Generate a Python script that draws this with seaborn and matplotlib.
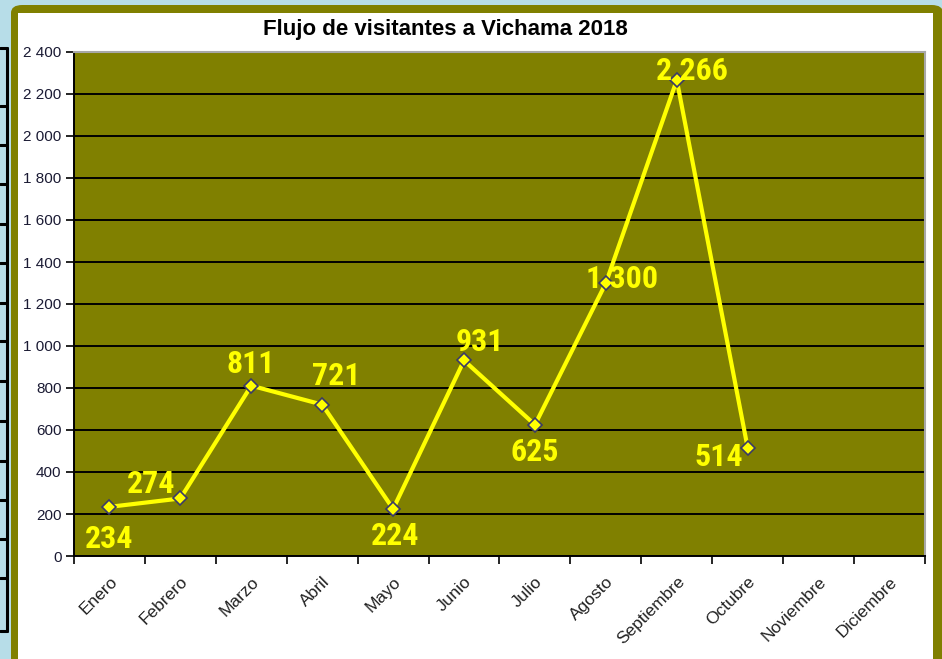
import matplotlib
matplotlib.use("Agg")
import matplotlib.pyplot as plt
import matplotlib.ticker as mticker
from matplotlib import font_manager
from matplotlib.patches import FancyBboxPatch, Rectangle
from matplotlib.lines import Line2D
import seaborn as sns
import pandas as pd

# ---- data ----
meses = ["Enero", "Febrero", "Marzo", "Abril", "Mayo", "Junio", "Julio",
         "Agosto", "Septiembre", "Octubre", "Noviembre", "Diciembre"]
meses_con_datos = meses[:10]
visitantes = [234, 274, 811, 721, 224, 931, 625, 1300, 2266, 514]
etiquetas = ["234", "274", "811", "721", "224", "931", "625", "1 300", "2 266", "514"]
titulo = "Flujo de visitantes a Vichama 2018"

# label centre offsets (pixels) – styling only
label_offsets = [(0, -29.5), (-29, 17), (-1, 24), (13.5, 31), (2, -24.5),
                 (15.5, 20.5), (0, -25), (16.5, 6.5), (15, 11.5), (-29, -6.5)]

sns.set_theme(style="white")
plt.rcParams["font.family"] = ["Liberation Sans", "DejaVu Sans"]

names = {f.name for f in font_manager.fontManager.ttflist}
label_family, label_size = ["Liberation Sans", "DejaVu Sans"], 20.5
for cand in ["Liberation Sans Narrow", "Arial Narrow", "Roboto Condensed",
             "PT Sans Narrow", "Archivo Narrow"]:
    if cand in names:
        label_family, label_size = [cand, "Liberation Sans"], 23
        break

W, H = 942, 659
fig = plt.figure(figsize=(W / 100, H / 100), dpi=100)
fig.patch.set_facecolor("#B7DDE8")

def fx(px):
    return px / W

def fy(py):
    return 1 - py / H

# left table fragment (decoration)
fig.add_artist(Line2D([fx(7), fx(7)], [fy(48), fy(631)], color="black", lw=2.2))
for yy in [48, 106, 145, 184, 224, 263, 303, 341, 381, 421, 461, 500, 539, 578, 631]:
    fig.add_artist(Line2D([0, fx(7)], [fy(yy), fy(yy)], color="black", lw=2.2))

# olive frame with white inside
frame = FancyBboxPatch((fx(11), fy(700)), fx(943) - fx(11), fy(5) - fy(700),
                       boxstyle="round,pad=0,rounding_size=0.012",
                       transform=fig.transFigure, facecolor="#808000",
                       edgecolor="none", zorder=0)
fig.add_artist(frame)
fig.add_artist(Rectangle((fx(18), fy(700)), fx(933) - fx(18), fy(13) - fy(700),
                         transform=fig.transFigure, facecolor="white",
                         edgecolor="none", zorder=0.5))

# axes
ax = fig.add_axes([fx(74), fy(556), fx(925) - fx(74), fy(52) - fy(556)])
ax.set_facecolor("#808000")
ax.set_zorder(2)

df = pd.DataFrame({"mes": meses_con_datos, "visitantes": visitantes})
df["x"] = range(len(df))

sns.lineplot(data=df, x="x", y="visitantes", ax=ax, color="#FFFF00",
             linewidth=3, marker="D", markersize=7,
             markerfacecolor="#FFFF00", markeredgecolor="#3A3A6A",
             markeredgewidth=1.2, zorder=3)

ax.set_xlim(-0.5, 11.5)
ax.set_ylim(0, 2400)
ax.yaxis.set_major_locator(mticker.MultipleLocator(200))
ax.yaxis.set_major_formatter(mticker.FuncFormatter(
    lambda v, p: f"{v:,.0f}".replace(",", " ")))
ax.grid(axis="y", color="black", lw=1.4)
ax.set_axisbelow(True)

ax.set_xticks(range(12))
ax.set_xticklabels(meses, rotation=45, ha="right", rotation_mode="anchor",
                   fontsize=12.5, color="#222222")
ax.set_xticks([i - 0.5 for i in range(13)], minor=True)
ax.tick_params(axis="x", which="major", length=0, pad=13)
ax.tick_params(axis="x", which="minor", length=6, width=1.2, color="black",
               direction="out", bottom=True)
ax.tick_params(axis="y", length=6, width=1.2, color="black", direction="out",
               left=True, labelsize=11, labelcolor="#1a1a33", pad=3)

ax.set_xlabel("")
ax.set_ylabel("")

for s in ["left", "bottom"]:
    ax.spines[s].set_color("black")
    ax.spines[s].set_linewidth(1.4)
for s in ["top", "right"]:
    ax.spines[s].set_color("#A8A8A8")
    ax.spines[s].set_linewidth(1.5)

cap_px = 0.716 * label_size * 100 / 72
for xi, v, t, (dx, dy) in zip(df["x"], visitantes, etiquetas, label_offsets):
    ax.annotate(t, (xi, v), xytext=(dx, dy - cap_px / 2),
                textcoords="offset pixels", ha="center", va="baseline",
                fontsize=label_size, fontweight="bold", family=label_family,
                color="#FFFF00", zorder=5)

fig.text(fx(445), fy(29), titulo, ha="center", va="center", fontsize=16,
         fontweight="bold", color="black", zorder=3)

fig.savefig("out.png", dpi=100, facecolor=fig.get_facecolor())
